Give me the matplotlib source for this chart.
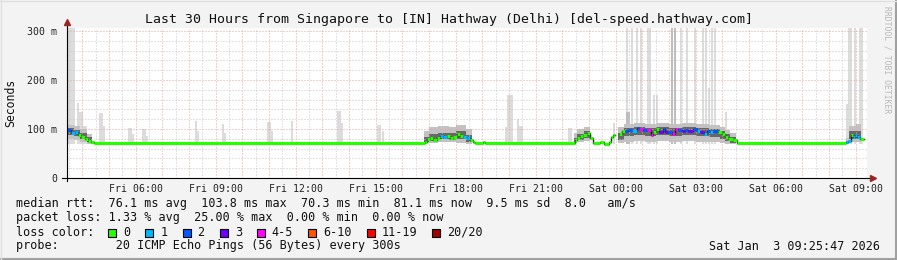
import numpy as np
import matplotlib
matplotlib.use('Agg')
import matplotlib.pyplot as plt
from matplotlib.lines import Line2D
from matplotlib.patches import Rectangle

nan = np.nan

# ── time window (hours since Fri 00:00) ─────────────────────────────────────
STEP_H = 300 / 3600          # probe interval
T_START, T_END = 3.42, 33.42
MIN_RTT = 70.3

tick_hours = [6, 9, 12, 15, 18, 21, 24, 27, 30, 33]
tick_labels = ['Fri 06:00', 'Fri 09:00', 'Fri 12:00', 'Fri 15:00', 'Fri 18:00',
               'Fri 21:00', 'Sat 00:00', 'Sat 03:00', 'Sat 06:00', 'Sat 09:00']

# ── median rtt (ms), step change points, loss = index into loss legend ───────
med_hour = [3.42, 3.57, 3.72, 3.83, 3.945, 4.095, 4.21, 4.32, 4.43,
            15.57,
            16.845, 16.92, 17.03, 17.145, 17.295, 17.41, 17.52, 17.67, 17.78,
            17.895, 18.045, 18.16, 18.27, 18.42, 18.53, 18.645, 18.72,
            19.02, 19.095,
            22.47, 22.545, 22.66, 22.77, 22.92, 23.03, 23.145, 23.41, 23.56,
            23.745, 23.82, 23.895, 23.97, 24.12, 24.23,
            24.345, 24.46, 24.61, 24.795, 24.87, 25.02, 25.17, 25.32, 25.395,
            25.51, 25.62, 25.77, 25.845, 25.96, 26.11, 26.22, 26.33, 26.48,
            26.595, 26.71, 26.895, 27.045, 27.16, 27.31, 27.42, 27.53, 27.645,
            27.83, 27.98, 28.095, 28.21, 28.395, 28.545,
            32.63, 32.71, 32.82, 32.895, 32.97, 33.045, 33.16, 33.29]
med_ms = [97, 91, 93, 88, 84, 79, 75.5, 73, 70.8,
          72,
          74, 79, 81, 77.5, 81, 86, 83, 86, 81,
          83, 90, 86, 84, 81, 77.5, 73, 71,
          74, 71,
          77.5, 82, 86, 88, 92, 81, 71.5, 72.5, 69.5,
          74, 84, 88, nan, 90, 96,
          96, 98, 96, 103, 100, 98, 98, 88, 94,
          100, 94, 100, 93, 94, 89, 100, 98, 96,
          98, 96, 100, 96, 93, 90, 96, 93, 96,
          93, 89, 84, 80, 77.5, 70.7,
          73, 76, 88, 84, 88, 84, 80, nan]
med_loss = [2, 1, 1, 0, 0, 0, 0, 0, 0,
            0,
            0, 0, 0, 0, 0, 1, 1, 0, 0,
            0, 0, 0, 1, 1, 0, 0, 0,
            0, 0,
            0, 0, 0, 0, 0, 0, 0, 0, 0,
            0, 0, 0, 0, 0, 0,
            2, 2, 1, 2, 4, 2, 4, 4, 0,
            0, 3, 2, 3, 2, 4, 4, 2, 3,
            2, 3, 2, 1, 3, 1, 2, 1, 2,
            0, 0, 0, 0, 0, 0,
            1, 1, 0, 1, 1, 1, 0, 0]

# ── smoke envelopes (ms) at change points ───────────────────────────────────
smoke_hour = [3.42, 3.67, 3.92, 4.17, 4.35, 4.50,
              16.80, 17.00, 17.35, 17.75, 18.00, 18.40, 18.62, 18.75,
              22.42, 22.55, 22.80, 23.05, 23.17,
              23.72, 23.97,
              24.10, 24.30, 24.70, 25.10, 25.50, 26.00, 26.50, 27.00, 27.50,
              27.90, 28.10, 28.30, 28.50, 28.70,
              32.62, 32.75, 33.00, 33.20, 33.29]
smoke_lo = [80, 78, 74, 70, 70, nan,
            72, 72, 73, 73, 72, 70, 70, nan,
            72, 74, 76, 70, nan,
            70, nan,
            72, 74, 75, 74, 75, 74, 75, 74, 73,
            71, 70, 70, 70, nan,
            70, 74, 74, 72, nan]
smoke_hi = [108, 106, 100, 90, 80, nan,
            96, 104, 106, 104, 108, 100, 88, nan,
            92, 100, 104, 92, nan,
            96, nan,
            104, 110, 112, 110, 112, 111, 112, 110, 108,
            104, 98, 92, 86, nan,
            82, 106, 110, 104, nan]
core_lo = [88, 86, 80, 74, 71, nan,
           74, 76, 79, 78, 80, 74, 71, nan,
           74, 78, 82, 72, nan,
           74, nan,
           78, 86, 88, 86, 87, 86, 88, 86, 84,
           80, 76, 72, 70, nan,
           71, 80, 80, 78, nan]
core_hi = [102, 98, 92, 84, 76, nan,
           84, 90, 92, 92, 95, 88, 78, nan,
           82, 90, 95, 84, nan,
           88, nan,
           92, 102, 104, 103, 104, 102, 104, 102, 100,
           96, 90, 84, 78, nan,
           76, 96, 96, 92, nan]

# ── single-step slow pings (ms); 320 = beyond the top of the chart ──────────
spike_hour = [3.42, 3.50, 3.57, 3.645, 3.795, 3.87, 3.945, 4.02, 4.095,
              4.62, 4.695, 4.77, 5.71, 5.785, 5.86, 6.235, 6.31, 6.385,
              8.22, 8.295, 9.23, 9.305, 10.92, 10.995, 11.07, 11.82,
              13.545, 13.62, 13.695, 15.045, 15.12, 15.23,
              19.845, 19.92, 19.995, 20.07, 20.295, 20.37, 20.445,
              22.21, 22.285, 23.895,
              24.38, 24.57, 24.755, 24.905, 25.17, 25.245, 25.395, 25.51,
              26.07, 26.185, 26.41, 26.635, 26.935,
              27.235, 27.345, 27.46, 27.57, 27.685, 28.095,
              32.63, 32.705, 32.78, 32.93, 33.12, 33.195]
spike_ms = [320, 320, 320, 320, 153, 135, 135, 106, 106,
            132, 132, 106, 102, 102, 90, 100, 100, 86,
            116, 96, 110, 92, 114, 114, 96, 116,
            137, 137, 113, 108, 108, 96,
            104, 169, 169, 169, 120, 106, 106,
            102, 102, 112,
            320, 320, 320, 320, 320, 320, 169, 169,
            320, 320, 320, 320, 320,
            320, 320, 184, 320, 320, 135,
            151, 320, 320, 320, 320, 320]
dark_spike_hour = [24.38, 24.455, 26.07, 26.185]
dark_spike_ms = [135, 135, 320, 320]

loss_labels = ['0', '1', '2', '3', '4-5', '6-10', '11-19', '20/20']
loss_colors = ['#26ff00', '#00b8ff', '#0059ff', '#7000ff',
               '#ff00ff', '#ff5500', '#ff0000', '#a10000']

stats_rtt = ['76.1 ms avg', '103.8 ms max', '70.3 ms min', '81.1 ms now',
             '9.5 ms sd', '8.0   am/s']
stats_loss = ['1.33 % avg', '25.00 % max', '0.00 % min', '0.00 % now']

# ── figure ──────────────────────────────────────────────────────────────────
W, H = 897, 260
MONO = 'DejaVu Sans Mono'
BG = '#f3f3f3'
fig = plt.figure(figsize=(W / 100, H / 100), dpi=100)
fig.patch.set_facecolor(BG)

ax = fig.add_axes([67 / W, 1 - 178 / H, 800 / W, 150 / H])
ax.set_facecolor('white')
ax.set_xlim(T_START, T_END)
ax.set_ylim(0, 306.1)
for s in ax.spines.values():
    s.set_visible(False)

# smoke and outliers
ax.bar(spike_hour, np.array(spike_ms) - MIN_RTT, bottom=MIN_RTT, width=STEP_H,
       align='edge', color='#dcdcdc', linewidth=0, zorder=1)
ax.bar(dark_spike_hour, np.array(dark_spike_ms) - MIN_RTT, bottom=MIN_RTT,
       width=STEP_H, align='edge', color='#bdbdbd', linewidth=0, zorder=1.1)
ax.fill_between(smoke_hour, smoke_lo, smoke_hi, step='post',
                color='#c2c2c2', linewidth=0, zorder=2)
ax.fill_between(smoke_hour, core_lo, core_hi, step='post',
                color='#686868', linewidth=0, zorder=2.5)

# grid (dotted, drawn over the smoke)
dot = (0, (1, 2))
for h in np.arange(3.5, T_END, 0.5):
    major = float(h).is_integer()
    ax.axvline(h, color='#eba3a3' if major else '#c9c9c9', lw=0.72,
               linestyle=dot, zorder=3)
for v in range(20, 301, 20):
    major = v % 100 == 0
    ax.axhline(v, color='#eba3a3' if major else '#c9c9c9', lw=0.72,
               linestyle=dot, zorder=3)

# median, coloured by packet loss
ax.step(med_hour, med_ms, where='post', color='#1c1c1c', lw=1.0, zorder=4)
for i in range(len(med_hour) - 1):
    if np.isnan(med_ms[i]):
        continue
    ax.hlines(med_ms[i], med_hour[i], med_hour[i + 1],
              color=loss_colors[med_loss[i]], lw=2.2, zorder=5)

# axes with arrows
ax.plot([-5 / 800, 1 + 4 / 800], [0, 0], transform=ax.transAxes,
        color='black', lw=0.8, clip_on=False, zorder=6)
ax.plot([0, 0], [-3 / 150, 1 + 4 / 150], transform=ax.transAxes,
        color='black', lw=0.8, clip_on=False, zorder=6)
ax.plot(1 + 6 / 800, 0, marker='>', ms=4.5, color='#9b2424',
        transform=ax.transAxes, clip_on=False, zorder=7)
ax.plot(0, 1 + 6 / 150, marker='^', ms=4.5, color='#9b2424',
        transform=ax.transAxes, clip_on=False, zorder=7)

ax.set_xticks(tick_hours)
ax.set_xticklabels(tick_labels, fontfamily=MONO, fontsize=7.1)
ax.set_yticks([0, 100, 200, 300])
ax.set_yticklabels(['0', '100 m', '200 m', '300 m'], fontfamily=MONO, fontsize=7.1)
ax.tick_params(axis='x', length=0, pad=4.5, colors='#222222')
ax.tick_params(axis='y', length=0, pad=7, colors='#222222')

# titles and side texts
fig.text(0.5, 1 - 19 / H,
         'Last 30 Hours from Singapore to [IN] Hathway (Delhi) [del-speed.hathway.com]',
         ha='center', va='center', fontfamily=MONO, fontsize=9.55, color='#111111')
fig.text(11 / W, 1 - 103 / H, 'Seconds', rotation=90, ha='center', va='center',
         fontfamily=MONO, fontsize=8.3, color='#111111')
fig.text(887 / W, 1 - 60 / H, 'RRDTOOL / TOBI OETIKER', rotation=270,
         ha='center', va='center', fontfamily=MONO, fontsize=5.8, color='#b8b8b8')

# ── legend block ─────────────────────────────────────────────────────────────
LFS = 8.5
CW = 0.602 * LFS * 100 / 72        # monospace char width in px
X0 = 16


def ltext(x, y, s, **kw):
    fig.text(x / W, 1 - y / H, s, ha='left', va='center', fontfamily=MONO,
             fontsize=LFS, color='#111111', **kw)


ltext(X0, 204, 'median rtt:  ' + '  '.join(stats_rtt))
ltext(X0, 218, 'packet loss: ' + '  '.join(stats_loss))
ltext(X0, 232, 'loss color:')
xs = X0 + 13 * CW
for lab, col in zip(loss_labels, loss_colors):
    fig.add_artist(Rectangle((xs / W, 1 - 236.5 / H), 8 / W, 8 / H,
                             transform=fig.transFigure, facecolor=col,
                             edgecolor='black', lw=0.8))
    ltext(xs + 15, 232, lab)
    xs = xs + 15 + len(lab) * CW + 15
ltext(X0, 246, 'probe:        20 ICMP Echo Pings (56 Bytes) every 300s')
fig.text(880 / W, 1 - 246 / H, 'Sat Jan  3 09:25:47 2026', ha='right',
         va='center', fontfamily=MONO, fontsize=LFS, color='#111111')

# frame
fig.add_artist(Line2D([0, 1], [1 / H, 1 / H], transform=fig.transFigure,
                      color='#a0a0a0', lw=1.5))
fig.add_artist(Line2D([1 - 1 / W, 1 - 1 / W], [0, 1], transform=fig.transFigure,
                      color='#a0a0a0', lw=1.5))
fig.add_artist(Line2D([0, 1], [1 - 0.5 / H, 1 - 0.5 / H], transform=fig.transFigure,
                      color='#e0e0e0', lw=1))
fig.add_artist(Line2D([0.5 / W, 0.5 / W], [0, 1], transform=fig.transFigure,
                      color='#e0e0e0', lw=1))

fig.savefig('out.png', dpi=100, facecolor=BG)
